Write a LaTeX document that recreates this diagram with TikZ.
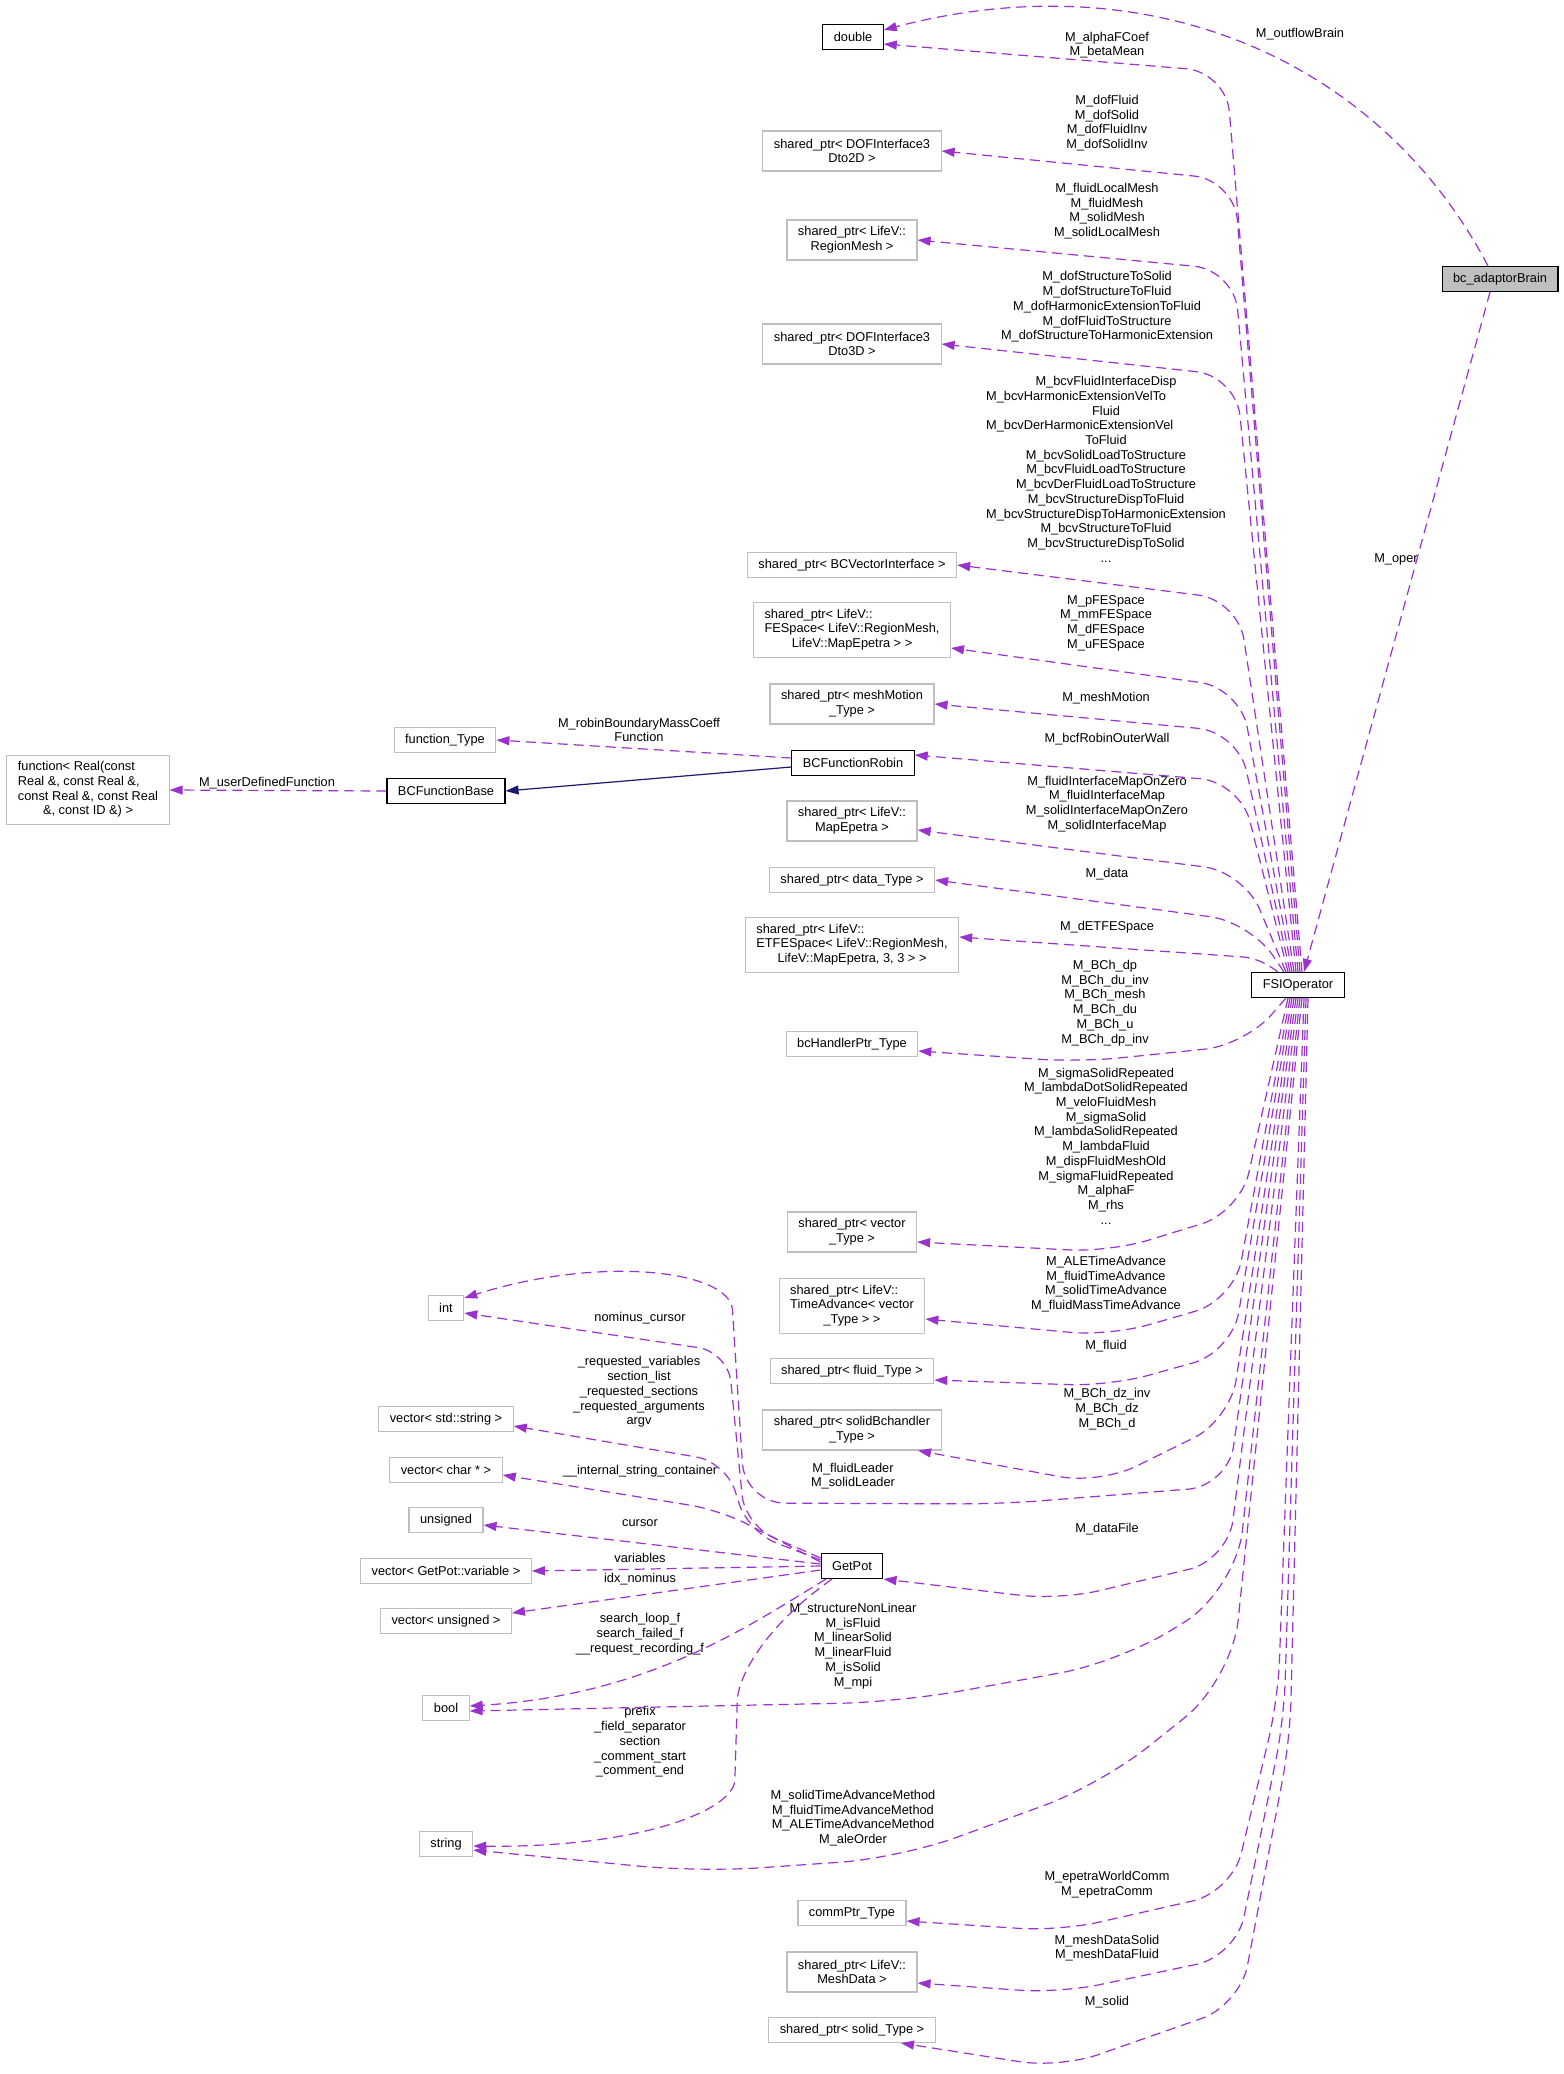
\documentclass[tikz,border=0pt]{standalone}
\usepackage{fontspec}
\setmainfont{Liberation Sans}
\usetikzlibrary{arrows.meta}

\definecolor{edgepurple}{HTML}{9A32CD}
\definecolor{boxgray}{HTML}{BFBFBF}
\definecolor{inheritblue}{HTML}{191970}
\newcommand{\diafont}{\fontsize{12.8}{14.7}\selectfont}

\tikzset{
  box/.style={draw=boxgray, line width=1.1pt, inner xsep=11pt, inner ysep=2pt,
    minimum height=25pt, align=center, font=\diafont},
  docbox/.style={box, draw=black},
  lbl/.style={inner sep=0pt, align=center, font=\diafont},
  member/.style={draw=edgepurple, line width=1.2pt, dash pattern=on 10pt off 6pt,
    rounded corners=40pt, -{Triangle[length=13pt,width=9pt]}},
  derived/.style={draw=inheritblue, line width=1.2pt, -{Triangle[length=13pt,width=9pt]}},
}

\begin{document}
\begin{tikzpicture}[x=1pt,y=-1pt]

      \fill[white] (0,0) rectangle (1563,2074);
      \useasboundingbox (0,0) rectangle (1563,2074);

      \begin{scope}[every node/.style={docbox}]
        \node (dbl)    at (853,37)   {double};
        \node[fill=boxgray] (brain) at (1500,279) {bc\_adaptorBrain};
        \node (robin)  at (853,763)  {BCFunctionRobin};
        \node (fbase)  at (446,791)  {BCFunctionBase};
        \node (fsi)    at (1298,985) {FSIOperator};
        \node (getpot) at (852,1566) {GetPot};
      \end{scope}

      \begin{scope}[every node/.style={box}]
        \node[minimum height=40pt] (dtwo)   at (852,151)  {shared\_ptr< DOFInterface3\\Dto2D >};
        \node[minimum height=40pt] (rmesh)  at (852,240)  {shared\_ptr< LifeV::\\RegionMesh >};
        \node[minimum height=40pt] (dthree) at (852,344)  {shared\_ptr< DOFInterface3\\Dto3D >};
        \node (bcvec) at (852,565) {shared\_ptr< BCVectorInterface >};
        \node[minimum height=55pt] (fespace) at (852,630) {\begin{tabular}{@{}l@{}}
            shared\_ptr< LifeV::\\ FESpace< LifeV::RegionMesh,\\
            \multicolumn{1}{@{}c@{}}{LifeV::MapEpetra > >}\end{tabular}};
        \node[minimum height=40pt] (mmotion) at (852,704) {shared\_ptr< meshMotion\\\_Type >};
        \node[minimum height=40pt] (mapep)   at (852,821) {shared\_ptr< LifeV::\\MapEpetra >};
        \node (datat) at (852,880) {shared\_ptr< data\_Type >};
        \node[minimum height=55pt] (etfe) at (852,945) {\begin{tabular}{@{}l@{}}
            shared\_ptr< LifeV::\\ ETFESpace< LifeV::RegionMesh,\\
            \multicolumn{1}{@{}c@{}}{LifeV::MapEpetra, 3, 3 > >}\end{tabular}};
        \node (bch) at (852,1044) {bcHandlerPtr\_Type};
        \node[minimum height=40pt] (vect) at (852,1232) {shared\_ptr< vector\\\_Type >};
        \node[minimum height=55pt] (tadv) at (852,1306) {\begin{tabular}{@{}l@{}}
            shared\_ptr< LifeV::\\ TimeAdvance< vector\\
            \multicolumn{1}{@{}c@{}}{\_Type > >}\end{tabular}};
        \node (fluidt) at (852,1371) {shared\_ptr< fluid\_Type >};
        \node[minimum height=40pt] (sbch) at (852,1430) {shared\_ptr< solidBchandler\\\_Type >};
        \node (comm) at (852,1913) {commPtr\_Type};
        \node[minimum height=40pt] (mdata) at (852,1972) {shared\_ptr< LifeV::\\MeshData >};
        \node (solidt) at (852,2030) {shared\_ptr< solid\_Type >};
        \node (ftype) at (445,740) {function\_Type};
        \node[minimum height=69pt] (freal) at (88,790) {\begin{tabular}{@{}l@{}}
            function< Real(const\\ Real \&, const Real \&,\\ const Real \&, const Real\\
            \multicolumn{1}{@{}c@{}}{\&, const ID \&) >}\end{tabular}};
        \node (int)  at (446,1308) {int};
        \node (vstr) at (446,1419) {vector< std::string >};
        \node (vchar) at (446,1470) {vector< char * >};
        \node (uns)  at (446,1520) {unsigned};
        \node (vvar) at (446,1571) {vector< GetPot::variable >};
        \node (vuns) at (446,1621) {vector< unsigned >};
        \node (bool) at (446,1708) {bool};
        \node (str)  at (446,1844) {string};
      \end{scope}

      \begin{scope}[every node/.style={lbl}]
        \node (loutflow) at (1300,34)  {M\_outflowBrain};
        \node (loper)    at (1396,559) {M\_oper};
        \node (lalpha)   at (1107,45)  {M\_alphaFCoef\\M\_betaMean};
        \node (ldof)     at (1107,123) {M\_dofFluid\\M\_dofSolid\\M\_dofFluidInv\\M\_dofSolidInv};
        \node (lmesh)    at (1107,211) {M\_fluidLocalMesh\\M\_fluidMesh\\M\_solidMesh\\M\_solidLocalMesh};
        \node (ldofs)    at (1107,307) {M\_dofStructureToSolid\\M\_dofStructureToFluid\\
          M\_dofHarmonicExtensionToFluid\\M\_dofFluidToStructure\\M\_dofStructureToHarmonicExtension};
        \node (lbcv)     at (1106,471) {\begin{tabular}{@{}c@{}}
            M\_bcvFluidInterfaceDisp\\
            \multicolumn{1}{@{}l@{}}{M\_bcvHarmonicExtensionVelTo}\\ Fluid\\
            \multicolumn{1}{@{}l@{}}{M\_bcvDerHarmonicExtensionVel}\\ ToFluid\\
            M\_bcvSolidLoadToStructure\\ M\_bcvFluidLoadToStructure\\
            M\_bcvDerFluidLoadToStructure\\ M\_bcvStructureDispToFluid\\
            M\_bcvStructureDispToHarmonicExtension\\ M\_bcvStructureToFluid\\
            M\_bcvStructureDispToSolid\\ ...\end{tabular}};
        \node (lfe)      at (1106,623) {M\_pFESpace\\M\_mmFESpace\\M\_dFESpace\\M\_uFESpace};
        \node (lmotion)  at (1106,698) {M\_meshMotion};
        \node (lmass)    at (639,730)  {M\_robinBoundaryMassCoeff\\Function};
        \node (lrobin)   at (1107,739) {M\_bcfRobinOuterWall};
        \node (luser)    at (267,783)  {M\_userDefinedFunction};
        \node (lmap)     at (1107,804) {M\_fluidInterfaceMapOnZero\\M\_fluidInterfaceMap\\
          M\_solidInterfaceMapOnZero\\M\_solidInterfaceMap};
        \node (ldata)    at (1107,874) {M\_data};
        \node (letfe)    at (1107,927) {M\_dETFESpace};
        \node (lbch)     at (1105,1003) {M\_BCh\_dp\\M\_BCh\_du\_inv\\M\_BCh\_mesh\\M\_BCh\_du\\
          M\_BCh\_u\\M\_BCh\_dp\_inv};
        \node (lsigma)   at (1106,1146) {M\_sigmaSolidRepeated\\M\_lambdaDotSolidRepeated\\
          M\_veloFluidMesh\\M\_sigmaSolid\\M\_lambdaSolidRepeated\\M\_lambdaFluid\\
          M\_dispFluidMeshOld\\M\_sigmaFluidRepeated\\M\_alphaF\\M\_rhs\\...};
        \node (ltadv)    at (1106,1284) {M\_ALETimeAdvance\\M\_fluidTimeAdvance\\
          M\_solidTimeAdvance\\M\_fluidMassTimeAdvance};
        \node (lfluid)   at (1106,1346) {M\_fluid};
        \node (ldz)      at (1107,1409) {M\_BCh\_dz\_inv\\M\_BCh\_dz\\M\_BCh\_d};
        \node (lleader)  at (853,1476)  {M\_fluidLeader\\M\_solidLeader};
        \node (lfile)    at (1107,1529) {M\_dataFile};
        \node (lflags)   at (853,1646)  {M\_structureNonLinear\\M\_isFluid\\M\_linearSolid\\
          M\_linearFluid\\M\_isSolid\\M\_mpi};
        \node (lmethod)  at (853,1818)  {M\_solidTimeAdvanceMethod\\M\_fluidTimeAdvanceMethod\\
          M\_ALETimeAdvanceMethod\\M\_aleOrder};
        \node (lcomm)    at (1107,1885) {M\_epetraWorldComm\\M\_epetraComm};
        \node (lmdata)   at (1107,1948) {M\_meshDataSolid\\M\_meshDataFluid};
        \node (lsolid)   at (1107,2002) {M\_solid};
        \node (lnomin)   at (640,1318)  {nominus\_cursor};
        \node (lreq)     at (639,1392)  {\_requested\_variables\\section\_list\\\_requested\_sections\\
          \_requested\_arguments\\argv};
        \node (linternal) at (640,1471) {\_\_internal\_string\_container};
        \node (lcursor)  at (640,1523)  {cursor};
        \node (lvars)    at (640,1558)  {variables};
        \node (lidx)     at (640,1579)  {idx\_nominus};
        \node (lsearch)  at (640,1634)  {search\_loop\_f\\search\_failed\_f\\\_\_request\_recording\_f};
        \node (lprefix)  at (640,1742)  {prefix\\\_field\_separator\\section\\\_comment\_start\\\_comment\_end};
      \end{scope}

      \draw[member] ([xshift=-10pt]brain.south) -- ([xshift=6pt]fsi.north);
      \draw[member] ([xshift=-12pt]brain.north) .. controls (1380,60) and (1150,-40) .. ([yshift=7pt]dbl.east);

      \draw[member] ([xshift=4pt]fsi.north) -- (1226,72) -- ([yshift=-7pt]dbl.east);
      \draw[member] ([xshift=2pt]fsi.north) -- (1234,180) -- (dtwo.east);
      \draw[member] (fsi.north) -- (1234,270) -- (rmesh.east);
      \draw[member] ([xshift=-2pt]fsi.north) -- (1236,376) -- (dthree.east);
      \draw[member] ([xshift=-4pt]fsi.north) -- (1238,600) -- (bcvec.east);
      \draw[member] ([xshift=-6pt]fsi.north) -- (1240,688) -- ([yshift=-18pt]fespace.east);
      \draw[member] ([xshift=-8pt]fsi.north) -- (1238,732) -- (mmotion.east);
      \draw[member] ([xshift=-10pt]fsi.north) -- (1240,782) -- ([yshift=8pt]robin.east);
      \draw[member] ([xshift=-12pt]fsi.north) -- (1244,872) -- ([yshift=-9pt]mapep.east);
      \draw[member] ([xshift=-14pt]fsi.north) -- (1250,922) -- (datat.east);
      \draw[member, rounded corners=15pt] ([xshift=-20pt]fsi.north) -- (1258,958) -- ([yshift=8pt]etfe.east);

      \draw[member] ([xshift=-12pt]fsi.south) -- (1245,1045) -- (1080,1062) -- ([yshift=-7pt]bch.east);
      \draw[member] ([xshift=-10pt]fsi.south) -- (1240,1212) -- (1110,1252) -- ([yshift=-10pt]vect.east);
      \draw[member] ([xshift=-8pt]fsi.south) -- (1234,1300) -- (1110,1336) -- ([yshift=-13pt]tadv.east);
      \draw[member] ([xshift=-6pt]fsi.south) -- (1232,1352) -- (1110,1386) -- ([yshift=-9pt]fluidt.east);
      \draw[member] ([xshift=-4pt]fsi.south) -- (1230,1420) -- (1100,1484) -- ([xshift=66pt]sbch.south);
      \draw[member] ([xshift=-2pt]fsi.south) -- (1228,1486) -- (1000,1504) -- (745,1503) -- (735,1350)
        .. controls (730,1270) and (600,1255) .. ([yshift=10pt]int.east);
      \draw[member] (fsi.south) -- (1228,1560) -- (1060,1600) -- (getpot.south east);
      \draw[member, rounded corners=60pt] ([xshift=2pt]fsi.south) -- (1236,1590) -- (1120,1662)
        -- (900,1702) -- ([yshift=-3pt]bool.east);
      \draw[member, rounded corners=60pt] ([xshift=4pt]fsi.south) -- (1232,1680) -- (1100,1785)
        -- (900,1858) -- (700,1872) -- ([yshift=-6pt]str.east);
      \draw[member] ([xshift=6pt]fsi.south) -- (1278,1700) -- (1232,1892) -- (1060,1931) -- ([yshift=-8pt]comm.east);
      \draw[member] ([xshift=8pt]fsi.south) -- (1284,1720) -- (1236,1956) -- (1060,1993) -- ([yshift=-11pt]mdata.east);
      \draw[member] ([xshift=10pt]fsi.south) -- (1290,1740) -- (1240,2005) -- (1060,2068) -- ([xshift=49pt]solidt.south);

      \draw[member, rounded corners=30pt] ([yshift=8pt]getpot.west) -- (745,1525) -- (728,1352) -- ([yshift=-5pt]int.east);
      \draw[member, rounded corners=30pt] ([yshift=6pt]getpot.west) -- (748,1532) -- (726,1462) -- ([yshift=-7pt]vstr.east);
      \draw[member, rounded corners=30pt] ([yshift=4pt]getpot.west) -- (720,1510) -- ([yshift=-5pt]vchar.east);
      \draw[member] ([yshift=2pt]getpot.west) -- ([yshift=-5pt]uns.east);
      \draw[member] (getpot.west) -- (vvar.east);
      \draw[member] ([yshift=-4pt]getpot.west) -- ([yshift=8pt]vuns.east);
      \draw[member] ([xshift=-26pt]getpot.south) .. controls (750,1625) and (650,1695) .. ([yshift=2pt]bool.east);
      \draw[member] ([xshift=-20pt]getpot.south) .. controls (760,1630) and (738,1680) .. (736,1740)
        .. controls (734,1810) and (640,1848) .. ([yshift=-2pt]str.east);

      \draw[derived] ([yshift=-4pt]robin.west) -- (fbase.east);
      \draw[member] ([yshift=5pt]robin.west) -- (ftype.east);
      \draw[member] (fbase.west) -- (freal.east);

    \end{tikzpicture}
\end{document}
